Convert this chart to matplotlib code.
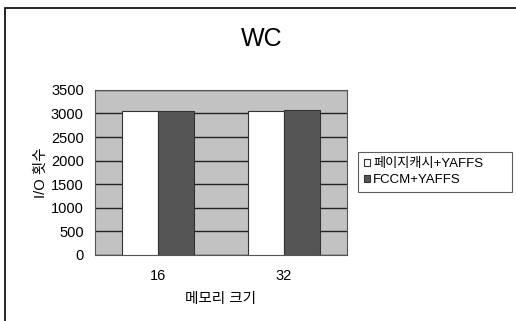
import numpy as np
import matplotlib.pyplot as plt
from matplotlib.patches import Rectangle

plt.rcParams['font.family'] = ['Liberation Sans', 'Noto Sans CJK KR']

categories = ['16', '32']
page_cache = [3050, 3060]
fccm = [3060, 3070]
series_names = ['페이지캐시+YAFFS', 'FCCM+YAFFS']

fig = plt.figure(figsize=(5.16, 3.21), dpi=100)
# frame around the whole chart (open to the right and bottom)
fig.patches.append(Rectangle((5 / 516, -0.05), 1.2, 1 - 8 / 321 + 0.05,
                             transform=fig.transFigure, fill=False,
                             edgecolor='black', linewidth=1.2))

ax = fig.add_axes([0.184, 0.206, 0.488, 0.514])
ax.set_facecolor('#c2c2c2')

x = np.arange(len(categories))
w = 0.286
ax.bar(x - w / 2, page_cache, w, color='white', edgecolor='#333333', linewidth=0.8,
       label=series_names[0], zorder=3)
ax.bar(x + w / 2, fccm, w, color='#555555', edgecolor='#333333', linewidth=0.8,
       label=series_names[1], zorder=3)

ax.set_xlim(-0.5, 1.5)
ax.set_ylim(0, 3500)
ax.set_yticks(np.arange(0, 3501, 500))
ax.set_xticks(x)
ax.set_xticklabels(categories)
ax.yaxis.grid(True, color='#222222', linewidth=1.0, zorder=1)
ax.set_axisbelow(True)
ax.tick_params(length=0, labelsize=10.5, pad=8)
ax.tick_params(axis='x', pad=10)
for s in ax.spines.values():
    s.set_color('#555555')
    s.set_linewidth(0.8)

ax.set_ylabel('I/O 횟수', fontsize=10.5, labelpad=2)
ax.set_xlabel('메모리 크기', fontsize=10.5, labelpad=7)
fig.text(0.508, 0.88, 'WC', fontsize=18, ha='center', va='center')

leg = ax.legend(loc='center left', bbox_to_anchor=(1.044, 0.3, 0.611, 0.4),
                mode='expand', fontsize=9.5,
                frameon=True, fancybox=False, edgecolor='#333333',
                handlelength=0.5, handleheight=0.5, handletextpad=0.2,
                borderpad=0.45, labelspacing=0.3, borderaxespad=0)
leg.get_frame().set_linewidth(0.8)

fig.savefig('out.png', dpi=100)
